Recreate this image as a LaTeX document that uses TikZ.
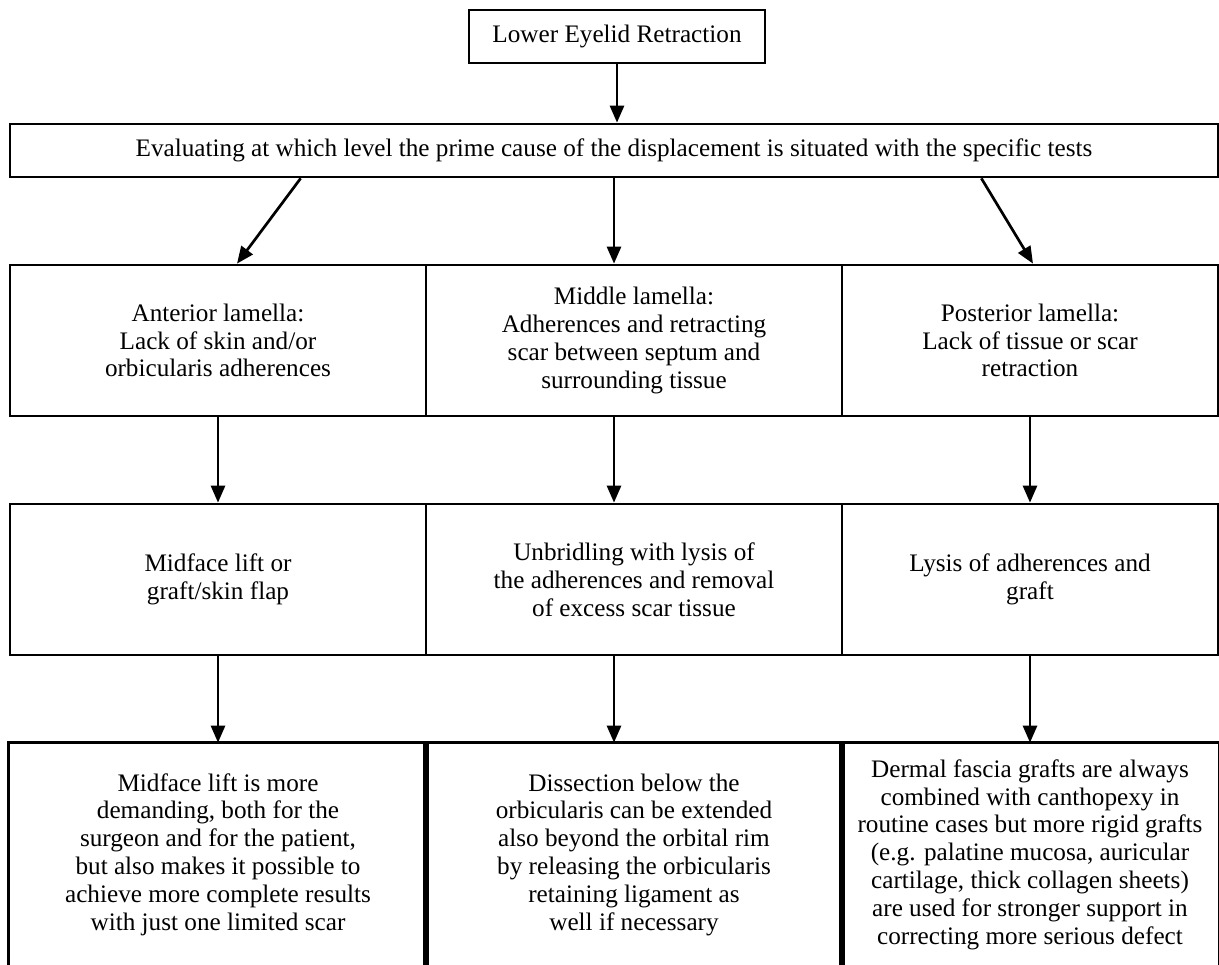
\documentclass[tikz,border=0pt]{standalone}
\usepackage{fontspec}
\setmainfont{Liberation Serif}
\usetikzlibrary{arrows.meta}

\tikzset{
  box/.style={draw, line width=2.7pt, inner sep=0pt, align=center,
    font=\fontsize{25.2}{27.8}\selectfont},
  openbox/.style={box, draw=none},
  arr/.style={line width=2.7pt, -{Triangle[length=17pt,width=14pt]}}
}

\begin{document}
\begin{tikzpicture}[x=1pt,y=-1pt]
    \useasboundingbox (0,0) rectangle (1219,965);

    % top of the chart
    \node [ box, minimum width=296pt, minimum height=53pt ] (lower) at (617,36.5) {Lower Eyelid Retraction};
    \node [ box, minimum width=1208pt, minimum height=53pt ] (eval) at (614,150.5)
      {Evaluating at which level the prime cause of the displacement is situated with the specific tests};

    % causes
    \node [ box, minimum width=416pt, minimum height=151pt ] (ant1) at (218,340.5)
      {Anterior lamella:\\Lack of skin and/or\\orbicularis adherences};
    \node [ box, minimum width=416pt, minimum height=151pt ] (mid1) at (634,340.5)
      {Middle lamella:\\Adherences and retracting\\scar between septum and\\surrounding tissue};
    \node [ box, minimum width=376pt, minimum height=151pt ] (post1) at (1030,340.5)
      {Posterior lamella:\\Lack of tissue or scar\\retraction};

    % treatments
    \node [ box, minimum width=416pt, minimum height=151pt ] (ant2) at (218,579.5)
      {Midface lift or\\graft/skin flap};
    \node [ box, minimum width=416pt, minimum height=151pt ] (mid2) at (634,579.5)
      {Unbridling with lysis of\\the adherences and removal\\of excess scar tissue};
    \node [ box, minimum width=376pt, minimum height=151pt ] (post2) at (1030,579.5)
      {Lysis of adherences and\\graft};

    % notes, open at the bottom
    \node [ openbox, minimum width=416pt, minimum height=221pt ] (ant3) at (218,854.5)
      {Midface lift is more\\demanding, both for the\\surgeon and for the patient,\\but also makes it possible to\\achieve more complete results\\with just one limited scar};
    \node [ openbox, minimum width=416pt, minimum height=221pt ] (mid3) at (634,854.5)
      {Dissection below the\\orbicularis can be extended\\also beyond the orbital rim\\by releasing the orbicularis\\retaining ligament as\\well if necessary};
    \node [ openbox, minimum width=376pt, minimum height=221pt ] (post3) at (1030,854.5)
      {Dermal fascia grafts are always\\combined with canthopexy in\\routine cases but more rigid grafts\\(e.g. palatine mucosa, auricular\\cartilage, thick collagen sheets)\\are used for stronger support in\\correcting more serious defect};
    \foreach \n in {ant3,mid3,post3}
      \draw [ line width=2.7pt ] (\n.south west) -- (\n.north west) -- (\n.north east) -- (\n.south east);

    % arrows
    \draw [ arr ] (lower.south) -- (lower.south |- eval.north);
    \draw [ arr ] ([xshift=292pt]eval.south west) -- ([xshift=19pt]ant1.north);
    \draw [ arr ] (eval.south) -- (eval.south |- mid1.north);
    \draw [ arr ] ([xshift=-238pt]eval.south east) -- ([xshift=3pt]post1.north);

    \draw [ arr ] (ant1.south) -- (ant2.north);
    \draw [ arr ] (mid1.south -| eval) -- (mid2.north -| eval);
    \draw [ arr ] (post1.south) -- (post2.north);

    \draw [ arr ] (ant2.south) -- (ant3.north);
    \draw [ arr ] (mid2.south -| eval) -- (mid3.north -| eval);
    \draw [ arr ] (post2.south) -- (post3.north);
\end{tikzpicture}
\end{document}
